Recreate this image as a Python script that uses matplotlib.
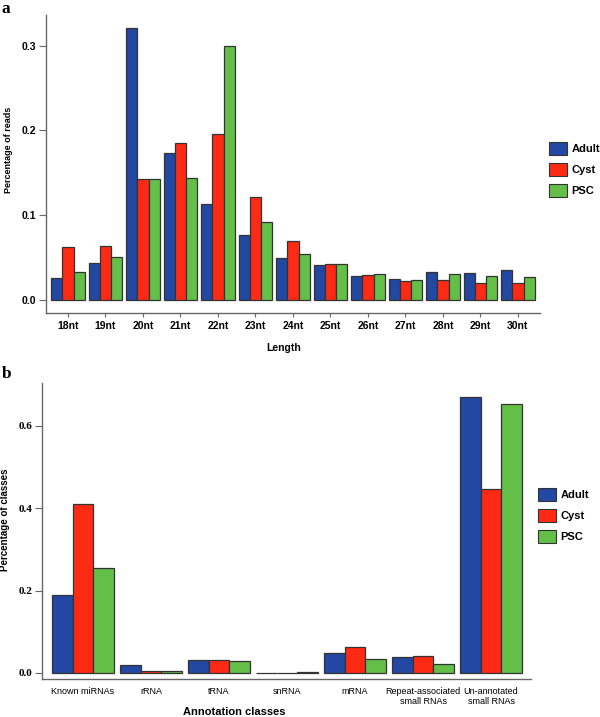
import matplotlib.pyplot as plt
from matplotlib.patches import Patch
import numpy as np

# panel a: read length distribution
lengths = ["18nt", "19nt", "20nt", "21nt", "22nt", "23nt", "24nt",
           "25nt", "26nt", "27nt", "28nt", "29nt", "30nt"]
adult_len = [0.026, 0.044, 0.321, 0.173, 0.113, 0.077, 0.050,
             0.041, 0.028, 0.025, 0.033, 0.032, 0.035]
cyst_len = [0.062, 0.064, 0.143, 0.185, 0.196, 0.122, 0.069,
            0.043, 0.029, 0.022, 0.024, 0.020, 0.020]
psc_len = [0.033, 0.051, 0.143, 0.144, 0.300, 0.092, 0.054,
           0.042, 0.031, 0.024, 0.031, 0.028, 0.027]

# panel b: annotation classes
classes = ["Known miRNAs", "rRNA", "tRNA", "snRNA", "mRNA",
           "Repeat-associated\nsmall RNAs", "Un-annotated\nsmall RNAs"]
adult_cls = [0.190, 0.019, 0.032, 0.001, 0.048, 0.038, 0.671]
cyst_cls = [0.410, 0.006, 0.031, 0.001, 0.064, 0.042, 0.446]
psc_cls = [0.256, 0.004, 0.028, 0.002, 0.035, 0.022, 0.653]

groups = ["Adult", "Cyst", "PSC"]
colors = ["#2248a3", "#ff2a14", "#63bf48"]

SANS = "Liberation Sans"
SERIF = "Liberation Serif"
W, H = 600, 717


def style_axis(ax):
    for s in ("top", "right"):
        ax.spines[s].set_visible(False)
    for s in ("left", "bottom"):
        ax.spines[s].set_color("#666666")
        ax.spines[s].set_linewidth(1.0)
    ax.tick_params(axis="y", direction="out", length=5, width=0.8, color="#666666", pad=2)
    ax.tick_params(axis="x", direction="out", length=3, width=0.8, color="#666666", pad=3)


def draw_bars(ax, series, w=0.3):
    x = np.arange(len(series[0]))
    for i, (vals, c) in enumerate(zip(series, colors)):
        ax.bar(x + (i - 1) * w, vals, width=w, color=c,
               edgecolor="#333333", linewidth=0.9)
    return x


fig = plt.figure(figsize=(6, 7.17), dpi=100)

# ---- panel a
ax_a = fig.add_axes([46 / W, 1 - 313 / H, 494 / W, 298 / H])
x = draw_bars(ax_a, [adult_len, cyst_len, psc_len])
style_axis(ax_a)
ax_a.set_xlim(-0.587, 12.59)
ax_a.set_ylim(-0.0153, 0.336)
ax_a.set_xticks(x)
ax_a.set_xticklabels(lengths, fontfamily=SANS, fontweight="bold", fontsize=7.5)
ax_a.set_yticks([0.0, 0.1, 0.2, 0.3])
ax_a.set_yticklabels(["0.0", "0.1", "0.2", "0.3"], fontfamily=SANS,
                     fontweight="bold", fontsize=7.5)

fig.text(9 / W, 1 - 150 / H, "Percentage of reads", rotation=90, ha="center",
         va="center", fontfamily=SANS, fontweight="bold", fontsize=6.5)
fig.text(284 / W, 1 - 348 / H, "Length", ha="center", va="center",
         fontfamily=SANS, fontweight="bold", fontsize=7.5)
fig.text(2 / W, 1 - 1 / H, "a", ha="left", va="top",
         fontfamily=SERIF, fontweight="bold", fontsize=12.5)

handles = [Patch(facecolor=c, edgecolor="#333333", linewidth=0.8) for c in colors]
fig.legend(handles, groups, loc="upper left", bbox_to_anchor=(549 / W, 1 - 142 / H),
           frameon=False, borderpad=0, borderaxespad=0, handlelength=1.6,
           handleheight=1.45, labelspacing=0.7, handletextpad=0.4,
           prop={"family": SANS, "weight": "bold", "size": 8})

# ---- panel b
ax_b = fig.add_axes([42 / W, 1 - 679 / H, 489 / W, 296 / H])
x = draw_bars(ax_b, [adult_cls, cyst_cls, psc_cls])
style_axis(ax_b)
ax_b.set_xlim(-0.603, 6.588)
ax_b.set_ylim(-0.0146, 0.704)
ax_b.set_xticks(x)
ax_b.set_xticklabels(classes, fontfamily=SANS, fontsize=6.5, linespacing=1.1)
ax_b.tick_params(axis="x", length=0, pad=6)
ax_b.set_yticks([0.0, 0.2, 0.4, 0.6])
ax_b.set_yticklabels(["0.0", "0.2", "0.4", "0.6"], fontfamily=SERIF,
                     fontweight="bold", fontsize=8)

fig.text(5 / W, 1 - 520 / H, "Percentage of classes", rotation=90, ha="center",
         va="center", fontfamily=SANS, fontweight="bold", fontsize=7)
fig.text(234 / W, 1 - 712 / H, "Annotation classes", ha="center", va="center",
         fontfamily=SANS, fontweight="bold", fontsize=8)
fig.text(2 / W, 1 - 366 / H, "b", ha="left", va="top",
         fontfamily=SERIF, fontweight="bold", fontsize=12.5)

fig.legend(handles, groups, loc="upper left", bbox_to_anchor=(538 / W, 1 - 488 / H),
           frameon=False, borderpad=0, borderaxespad=0, handlelength=1.6,
           handleheight=1.45, labelspacing=0.7, handletextpad=0.4,
           prop={"family": SANS, "weight": "bold", "size": 8})

fig.savefig("out.png", dpi=100, facecolor="white")
